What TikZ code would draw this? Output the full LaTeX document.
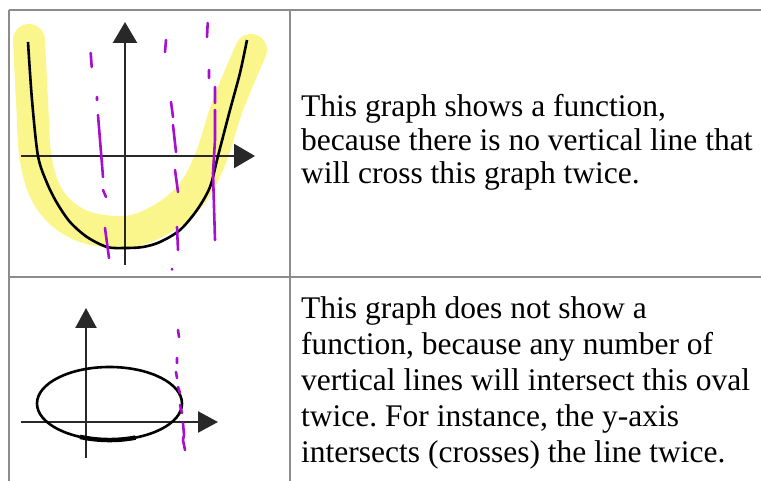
\documentclass[tikz,border=0pt]{standalone}
\usepackage{fontspec}
\setmainfont{Liberation Serif}
\frenchspacing
\usetikzlibrary{arrows.meta}
\definecolor{hilite}{RGB}{250,246,140}
\definecolor{penviolet}{RGB}{165,15,205}
\definecolor{rulegray}{RGB}{140,140,140}
\definecolor{inkgray}{RGB}{40,40,40}
\tikzset{
  axis/.style={line width=2.4pt,inkgray,-{Triangle[length=21pt,width=24pt]}},
  graphline/.style={line width=2.6pt,black,line join=round},
  pen/.style={line width=2.6pt,penviolet,line cap=round},
  rule/.style={line width=1.4pt,rulegray},
  celltext/.style={anchor=base west,inner sep=0pt,align=left}
}

\begin{document}
\begin{tikzpicture}[x=1pt,y=-1pt]
  \useasboundingbox (0,0) rectangle (761,481);
  % table rules
  \draw[rule] (9,10) -- (761,10);
  \draw[rule] (9,277) -- (761,277);
  \draw[rule] (9,10) -- (9,481);
  \draw[rule] (290,10) -- (290,481);
  % highlighted parabola
  \draw[hilite,line width=32pt,line cap=round,line join=round]
    plot[smooth,tension=0.6] coordinates {(29,40) (32,100) (36,160) (50,200)
      (80,225) (125,232) (160,220) (190,196) (210,160) (228,105) (251,50)};
  \draw[axis] (21,156) -- (255,156);
  \draw[axis] (125,265) -- (125,22);
  \draw[graphline] plot[smooth,tension=0.5] coordinates {(28,42) (32,100)
    (38,156) (47,183) (57,203) (70,222) (87,237) (107,247) (125,248)
    (143,247) (160,242) (180,230) (197,210) (210,187) (218,156) (230,110)
    (240,73) (247,40)};
  % pen marks
  \draw[pen] (90.7,53) -- (91.7,67) (97,97) -- (97,100)
    (98,115) -- (100,140) -- (103,177) (103,190) -- (106,197)
    (105,228) -- (109,258);
  \draw[pen] (166,40) -- (165,52) (171,102) -- (173,117)
    (173,125) -- (176,152) (175,170) -- (178,192) (177,227) -- (178,250)
    (172,269) -- (172,269.5);
  \draw[pen] (207.7,23) -- (207,37) (209,70) -- (209,78) (215,87) -- (215,103)
    (215,110) -- (215,140) -- (213,173) -- (215,240);
  \node[celltext,font=\fontsize{31.5}{33.5}\selectfont] (fntext) at (301,184)
    {This graph shows a function,\\because there is no vertical line that\\will cross this graph twice.};
  % oval
  \draw[axis,-{Triangle[length=20pt,width=21pt]}] (21,422) -- (218,422);
  \draw[axis,-{Triangle[length=20pt,width=21pt]}] (86,458) -- (86,308);
  \draw[graphline] (109.5,403.5) ellipse [x radius=72.5,y radius=36.5];
  \draw[graphline,line width=4.5pt] (135.5,437.6) arc [start angle=69,end angle=114,x radius=72.5,y radius=36.5];
  \draw[pen] (178,330) -- (179,337) (177,358) -- (177,363) (176,372) -- (177,378)
    (178,387) -- (180,393) (180,405) -- (182,413)
    (183,423) -- (184,435) -- (183,440) -- (185,450);
  \node[celltext,font=\fontsize{31.5}{36}\selectfont] (ovaltext) at (301,462)
    {This graph does not show a\\function, because any number of\\vertical lines will intersect this oval\\twice. For instance, the y-axis\\intersects (crosses) the line twice.};
\end{tikzpicture}
\end{document}
